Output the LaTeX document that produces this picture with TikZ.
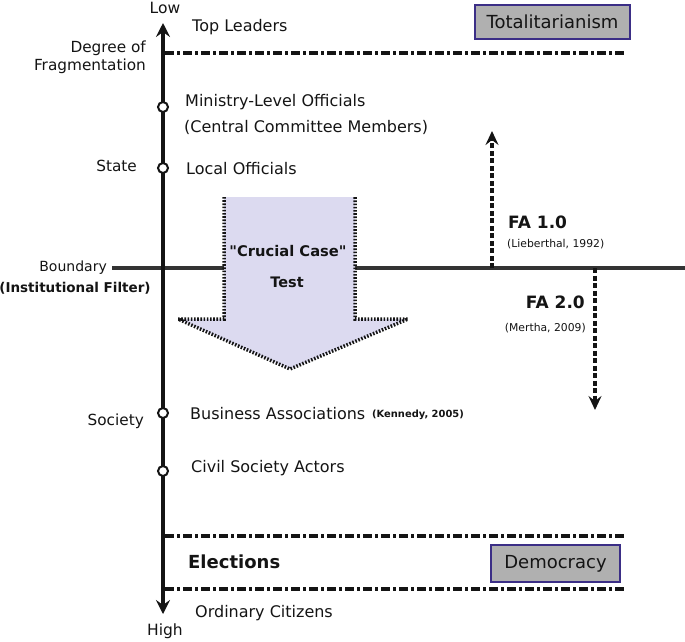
\documentclass[tikz,border=0pt]{standalone}
\usepackage{fontspec}
\setmainfont{DejaVu Sans}[Ligatures=TeXOff]
\usetikzlibrary{arrows.meta}
\definecolor{boxfill}{HTML}{B0B0B0}
\definecolor{boxdraw}{HTML}{3B2E86}
\definecolor{arrowfill}{HTML}{DCDAF0}
\definecolor{ink}{HTML}{141414}
\definecolor{lineink}{HTML}{333333}
\begin{document}
\begin{tikzpicture}[x=1pt,y=-1pt,
  lbl/.style={anchor=west,inner sep=0pt,text=ink,font=\fontsize{16}{19}\selectfont},
  rlbl/.style={anchor=east,inner sep=0pt,text=ink,font=\fontsize{15.3}{18}\selectfont},
  boldlbl/.style={inner sep=0pt,text=ink,font=\bfseries\fontsize{17}{20}\selectfont},
  cite/.style={inner sep=0pt,text=ink,font=\fontsize{10.8}{13}\selectfont},
  ddline/.style={draw=ink,line width=3.2pt,dash pattern=on 9pt off 3pt on 3pt off 3pt},
  pt/.style={circle,draw=ink,fill=white,line width=2pt,minimum size=10pt,inner sep=0pt},
  regime/.style={draw=boxdraw,fill=boxfill,line width=2pt,text=ink,inner sep=0pt,font=\fontsize{18}{21}\selectfont},
  axis/.style={draw=ink,line width=3.4pt,{Stealth[length=14pt,width=14pt,inset=5pt]}-{Stealth[length=14pt,width=14pt,inset=5pt]}},
  faarrow/.style={draw=ink,line width=3.2pt,dash pattern=on 5pt off 2.5pt,-{Stealth[length=14pt,width=13pt,inset=5pt]}},
]
\useasboundingbox (0,0) rectangle (685,641);

% boundary line
\node[rlbl,font=\fontsize{14}{17}\selectfont] (bnd) at (107,268) {Boundary};
\node[inner sep=0pt,text=ink,font=\bfseries\fontsize{13.5}{16}\selectfont] (filter) at (75,288) {(Institutional Filter)};
\coordinate (bndend) at (685,268);
\draw[lineink,line width=3.2pt] ([xshift=5pt]bnd.east) -- (bndend);

% crucial case arrow
\coordinate (ca1) at (224,197);
\coordinate (ca2) at (224,319);
\coordinate (ca3) at (178,319);
\coordinate (ca4) at (290,369);
\coordinate (ca5) at (408,319);
\coordinate (ca6) at (355,319);
\coordinate (ca7) at (355,197);
\fill[arrowfill] (ca1) -- (ca2) -- (ca3) -- (ca4) -- (ca5) -- (ca6) -- (ca7) -- cycle;
\draw[ink,line width=3.5pt,dash pattern=on 1.6pt off 1.6pt,line join=miter] (ca1) -- (ca2) -- (ca3) -- (ca4) -- (ca5) -- (ca6) -- (ca7);
\node[boldlbl,font=\bfseries\fontsize{14.7}{17}\selectfont] (cc1) at (288,251) {"Crucial Case"};
\node[boldlbl,font=\bfseries\fontsize{14.5}{17}\selectfont] (cc2) at (287,282) {Test};

% dash-dot lines
\coordinate (l1a) at (165,53);  \coordinate (l1b) at (625,53);
\coordinate (l2a) at (165,536); \coordinate (l2b) at (625,536);
\coordinate (l3a) at (165,589); \coordinate (l3b) at (625,589);
\draw[ddline] (l1a) -- (l1b);
\draw[ddline] (l2a) -- (l2b);
\draw[ddline] (l3a) -- (l3b);

% axis
\coordinate (axtop) at (163,23);
\coordinate (axbot) at (163,614);
\draw[axis] (axbot) -- (axtop);
\node[inner sep=0pt,text=ink,font=\fontsize{15.5}{18}\selectfont] (low) at (165,8) {Low};
\node[inner sep=0pt,text=ink,font=\fontsize{15.5}{18}\selectfont] (high) at (165,631) {High};
\node[rlbl,align=right] (deg) at (146,57) {Degree of\\Fragmentation};
\node[rlbl] (state) at (137,166) {State};
\node[rlbl] (society) at (144,421) {Society};

\node[pt] (p1) at (163,107) {};
\node[pt] (p2) at (163,168) {};
\node[pt] (p3) at (163,413) {};
\node[pt] (p4) at (163,471) {};

% labels
\node[lbl] (top) at (192,27) {Top Leaders};
\node[lbl] (min) at (185,102) {Ministry-Level Officials};
\node[lbl] (ccm) at (184,127) {(Central Committee Members)};
\node[lbl] (loc) at (186,169) {Local Officials};
\node[lbl] (bus) at (190,414) {Business Associations};
\node[cite,anchor=west,font=\bfseries\fontsize{9.9}{12}\selectfont] (ken) at (372,415) {(Kennedy, 2005)};
\node[lbl] (civ) at (191,468) {Civil Society Actors};
\node[boldlbl,anchor=west,font=\bfseries\fontsize{18}{21}\selectfont] (elec) at (188,562) {Elections};
\node[lbl] (ord) at (195,613) {Ordinary Citizens};

% regime boxes
\node[regime,minimum width=155pt,minimum height=34pt] (tot) at (552.5,22) {Totalitarianism};
\node[regime,minimum width=129pt,minimum height=37pt] (dem) at (555.5,563.5) {Democracy};

% FA arrows
\coordinate (fa1s) at (492,268);
\coordinate (fa1e) at (492,131);
\coordinate (fa2s) at (595,268);
\coordinate (fa2e) at (595,410);
\draw[faarrow] (fa1s) -- (fa1e);
\draw[faarrow] (fa2s) -- (fa2e);
\node[boldlbl,anchor=west] (fa1) at (508,222) {FA 1.0};
\node[cite,anchor=west] (lieb) at (507,244) {(Lieberthal, 1992)};
\node[boldlbl,anchor=east] (fa2) at (585,302) {FA 2.0};
\node[cite,anchor=east] (mert) at (586,328) {(Mertha, 2009)};
\end{tikzpicture}
\end{document}
